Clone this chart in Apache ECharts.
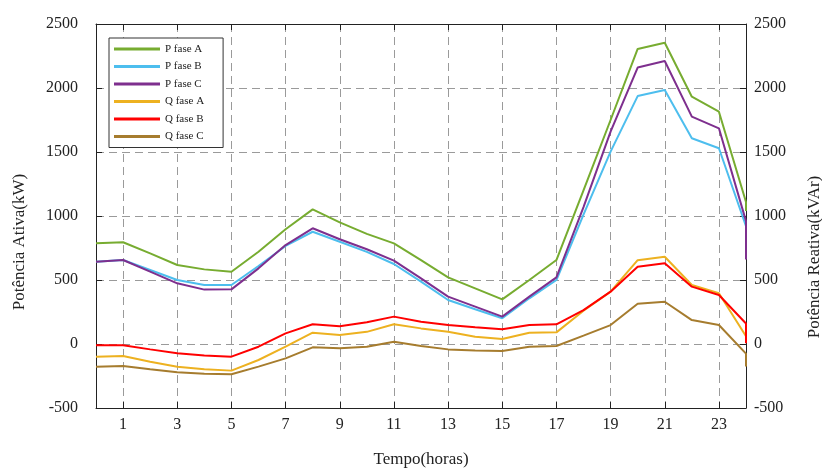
<!DOCTYPE html>
<html>
<head>
<meta charset="utf-8">
<script src="https://cdn.jsdelivr.net/npm/echarts@6/dist/echarts.min.js"></script>
<style>
  html, body { margin: 0; padding: 0; background: #fff; }
  #chart { width: 822px; height: 468px; }
</style>
</head>
<body>
<div id="chart"></div>
<script>
// horas (o último ponto repete 24h para a queda final)
var hours = [0, 1, 2, 3, 4, 5, 6, 7, 8, 9, 10, 11, 12, 13, 14, 15, 16, 17, 18, 19, 20, 21, 22, 23, 24, 24];
var xTicks = [1, 3, 5, 7, 9, 11, 13, 15, 17, 19, 21, 23];

// potência ativa (kW)
var pA = [787, 795, 708, 617, 583, 565, 721, 896, 1052, 950, 860, 786, 656, 521, 435, 349, 500, 656, 1200, 1750, 2305, 2354, 1932, 1815, 1110, 1040];
var pB = [643, 656, 578, 500, 461, 461, 609, 766, 877, 799, 720, 625, 487, 344, 271, 201, 357, 500, 1010, 1503, 1937, 1984, 1607, 1529, 920, 880];
var pC = [643, 656, 565, 474, 425, 427, 591, 773, 904, 818, 740, 651, 513, 370, 292, 214, 370, 521, 1070, 1659, 2160, 2211, 1776, 1685, 960, 660];
// potência reativa (kVAr)
var qA = [-99, -94, -138, -177, -198, -208, -125, -21, 88, 70, 95, 154, 122, 96, 57, 39, 88, 91, 260, 409, 655, 682, 461, 396, 60, 10];
var qB = [-10, -10, -42, -73, -90, -99, -21, 83, 154, 138, 170, 214, 174, 148, 130, 115, 148, 154, 265, 409, 604, 630, 448, 383, 160, 5];
var qC = [-177, -172, -198, -221, -232, -237, -177, -112, -26, -34, -21, 18, -16, -42, -50, -55, -21, -16, 65, 148, 315, 330, 187, 148, -75, -175];

var names = ["P fase A", "P fase B", "P fase C", "Q fase A", "Q fase B", "Q fase C"];
var colors = ["#77ac30", "#4dbeee", "#7e2f8e", "#edb120", "#ff0000", "#a67c2e"];
var values = [pA, pB, pC, qA, qB, qC];

var myChart = echarts.init(document.getElementById("chart"));
var serif = "Liberation Serif";

function pairs (arr) {
  return hours.map(function (h, i) { return [h, arr[i]]; });
}

// sem separador de milhar
function plain (v) {
  return String(v);
}

var series = names.map(function (n, i) {
  return {
    name: n,
    type: "line",
    data: pairs(values[i]),
    showSymbol: false,
    lineStyle: { color: colors[i], width: 2 },
    itemStyle: { color: colors[i] },
    animation: false
  };
});

var gridDash = { color: "#9a9a9a", type: [8, 5], width: 1 };

var option = {
  backgroundColor: "#fff",
  textStyle: { fontFamily: serif },
  grid: { left: 96, right: 76, top: 24, bottom: 60, outerBoundsMode: "none", containLabel: false },
  legend: {
    orient: "vertical",
    left: 109,
    top: 38,
    padding: [5, 19, 5, 5],
    itemWidth: 46,
    itemHeight: 3,
    itemGap: 5.5,
    icon: "rect",
    borderColor: "#333",
    borderWidth: 1,
    backgroundColor: "#fff",
    textStyle: { fontFamily: serif, fontSize: 11, color: "#222", lineHeight: 12 },
    data: names
  },
  xAxis: [{
    type: "value",
    min: 0,
    max: 24,
    name: "Tempo(horas)",
    nameLocation: "middle",
    nameGap: 43,
    nameTextStyle: { fontFamily: serif, fontSize: 17, color: "#222" },
    axisLine: { show: true, onZero: false, lineStyle: { color: "#222" } },
    axisTick: { show: true, inside: true, length: 6, customValues: xTicks, lineStyle: { color: "#222" } },
    axisLabel: { customValues: xTicks, formatter: plain, fontFamily: serif, fontSize: 16, color: "#222", margin: 9 },
    splitLine: { show: true, lineStyle: gridDash }
  }, {
    type: "value",
    position: "top",
    min: 0,
    max: 24,
    axisLine: { show: true, onZero: false, lineStyle: { color: "#222" } },
    axisTick: { show: true, inside: true, length: 6, customValues: xTicks, lineStyle: { color: "#222" } },
    axisLabel: { show: false },
    splitLine: { show: false }
  }],
  yAxis: [{
    type: "value",
    min: -500,
    max: 2500,
    interval: 500,
    name: "Potência Ativa(kW)",
    nameLocation: "middle",
    nameRotate: 90,
    nameGap: 68,
    nameTextStyle: { fontFamily: serif, fontSize: 17, color: "#222", padding: [0, 52, 0, 0] },
    axisLine: { show: true, onZero: false, lineStyle: { color: "#222" } },
    axisTick: { show: true, inside: true, length: 6, lineStyle: { color: "#222" } },
    axisLabel: { formatter: plain, fontFamily: serif, fontSize: 16, color: "#222", margin: 18 },
    splitLine: { show: true, lineStyle: gridDash }
  }, {
    type: "value",
    position: "right",
    min: -500,
    max: 2500,
    interval: 500,
    name: "Potência Reativa(kVAr)",
    nameLocation: "middle",
    nameRotate: 90,
    nameGap: 60,
    nameTextStyle: { fontFamily: serif, fontSize: 17, color: "#222", padding: [0, 82, 0, 0] },
    axisLine: { show: true, onZero: false, lineStyle: { color: "#222" } },
    axisTick: { show: true, inside: true, length: 6, lineStyle: { color: "#222" } },
    axisLabel: { formatter: plain, fontFamily: serif, fontSize: 16, color: "#222", margin: 8 },
    splitLine: { show: false }
  }],
  series: series
};

myChart.setOption(option);
window.addEventListener("resize", function () {
  myChart.resize();
});
</script>
</body>
</html>
